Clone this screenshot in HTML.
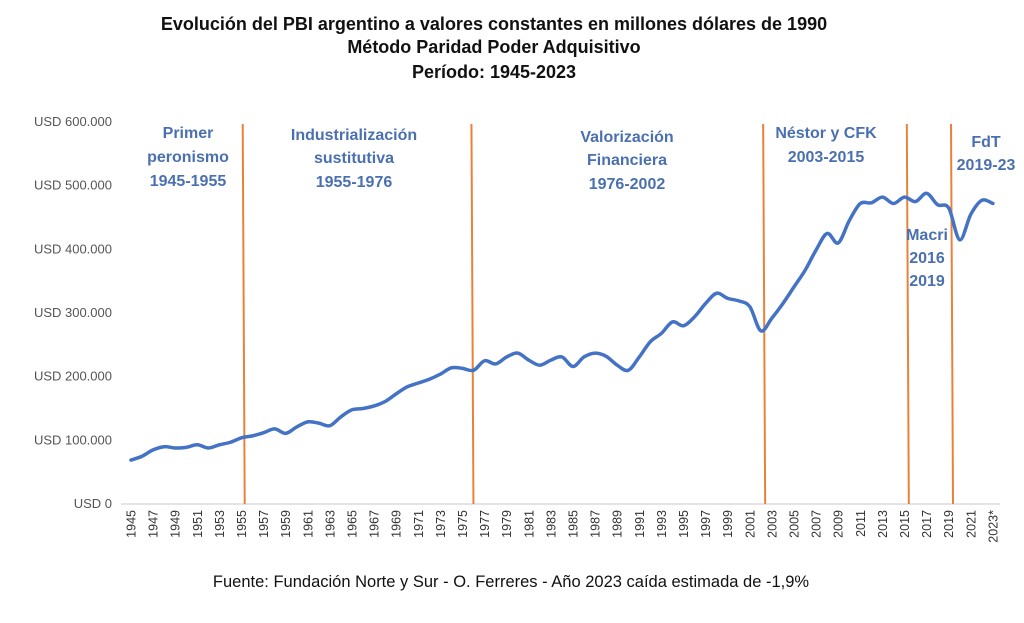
<!DOCTYPE html>
<html><head><meta charset="utf-8">
<style>
body{margin:0;background:#fff;width:1024px;height:618px;overflow:hidden;font-family:"Liberation Sans",sans-serif}
</style></head>
<body>
<svg id="chart" width="1024" height="618" xmlns="http://www.w3.org/2000/svg">
<g font-weight="bold" font-size="18" text-anchor="middle" fill="#111">
<text x="494" y="30">Evolución del PBI argentino a valores constantes en millones dólares de 1990</text>
<text x="494" y="53">Método Paridad Poder Adquisitivo</text>
<text x="494" y="78">Período: 1945-2023</text>
</g>
<g id="yaxis"></g>
<g id="xaxis"></g>
<g id="periods"></g>
<g id="series"></g>
<g font-weight="bold" font-size="16" text-anchor="middle" fill="#4a70b0">
<text x="188" y="138"><tspan x="188">Primer</tspan><tspan x="188" dy="24">peronismo</tspan><tspan x="188" dy="24">1945-1955</tspan></text>
<text x="354" y="140"><tspan x="354">Industrialización</tspan><tspan x="354" dy="23">sustitutiva</tspan><tspan x="354" dy="24">1955-1976</tspan></text>
<text x="627" y="142"><tspan x="627">Valorización</tspan><tspan x="627" dy="23">Financiera</tspan><tspan x="627" dy="24">1976-2002</tspan></text>
<text x="826" y="138"><tspan x="826">Néstor y CFK</tspan><tspan x="826" dy="24">2003-2015</tspan></text>
<text x="927" y="240"><tspan x="927">Macri</tspan><tspan x="927" dy="23">2016</tspan><tspan x="927" dy="23">2019</tspan></text>
<text x="986" y="147"><tspan x="986">FdT</tspan><tspan x="986" dy="23">2019-23</tspan></text>
</g>
<text x="511" y="587" text-anchor="middle" font-size="16.5" fill="#111">Fuente: Fundación Norte y Sur - O. Ferreres - Año 2023 caída estimada de -1,9%</text>
</svg>
<script>
const years=[1945,1946,1947,1948,1949,1950,1951,1952,1953,1954,1955,1956,1957,1958,1959,1960,1961,1962,1963,1964,1965,1966,1967,1968,1969,1970,1971,1972,1973,1974,1975,1976,1977,1978,1979,1980,1981,1982,1983,1984,1985,1986,1987,1988,1989,1990,1991,1992,1993,1994,1995,1996,1997,1998,1999,2000,2001,2002,2003,2004,2005,2006,2007,2008,2009,2010,2011,2012,2013,2014,2015,2016,2017,2018,2019,2020,2021,2022,2023];
const gdp=[69,75,85,90,88,89,93,88,93,97,104,107,112,118,111,121,129,127,123,137,148,150,154,161,173,184,190,196,204,214,213,210,225,220,231,237,226,218,226,231,216,231,237,232,218,210,231,255,268,286,280,294,315,331,323,319,310,272,292,315,341,367,399,425,410,445,472,473,482,472,482,475,488,470,465,415,455,477,472];
const yTicks=[0,100,200,300,400,500,600];
const yTickLabels=["USD 0","USD 100.000","USD 200.000","USD 300.000","USD 400.000","USD 500.000","USD 600.000"];
const dividerYears=[1955.2,1975.9,2002.3,2015.3,2019.3];
const NS="http://www.w3.org/2000/svg";
const x0=131,dx=11.05,yBase=504,yTop=122;
function X(yr){return x0+(yr-1945)*dx;}
function Y(v){return yBase-(v/600)*(yBase-yTop);}
function mk(tag,attrs,parent){const e=document.createElementNS(NS,tag);for(const k in attrs)e.setAttribute(k,attrs[k]);parent.appendChild(e);return e;}
const ya=document.getElementById('yaxis');
yTicks.forEach((t,i)=>{const e=mk('text',{x:112,y:Y(t)+4,'text-anchor':'end','font-size':13,fill:'#555'},ya);


e.textContent=yTickLabels[i];});
const xa=document.getElementById('xaxis');
const base=mk('line',{x1:121,x2:1000,y1:yBase,y2:yBase,stroke:'#c8c8c8','stroke-width':1},xa);


years.forEach((yr,i)=>{if(i%2)return;const lx=X(yr)+4.5,ly=510;
const e=mk('text',{x:lx,y:ly,transform:`rotate(-90 ${lx} ${ly})`,'text-anchor':'end','font-size':12.5,fill:'#333'},xa);


e.textContent=yr===2023?'2023*':String(yr);});
const pg=document.getElementById('periods');
dividerYears.forEach(d=>{const l=mk('line',{x1:X(d)-1,x2:X(d)+1,y1:124,y2:504,stroke:'#e8823a','stroke-width':2},pg);

});
const sg=document.getElementById('series');
const pts=years.map((yr,i)=>[X(yr),Y(gdp[i])]);
let d=`M${pts[0][0]},${pts[0][1]}`;
for(let i=0;i<pts.length-1;i++){const p0=pts[i-1]||pts[i],p1=pts[i],p2=pts[i+1],p3=pts[i+2]||p2;
d+=` C${p1[0]+(p2[0]-p0[0])/6},${p1[1]+(p2[1]-p0[1])/6} ${p2[0]-(p3[0]-p1[0])/6},${p2[1]-(p3[1]-p1[1])/6} ${p2[0]},${p2[1]}`;}
const path=mk('path',{d:d,fill:'none',stroke:'#4472c4','stroke-width':3.5,'stroke-linejoin':'round','stroke-linecap':'round'},sg);


</script>
</body></html>
